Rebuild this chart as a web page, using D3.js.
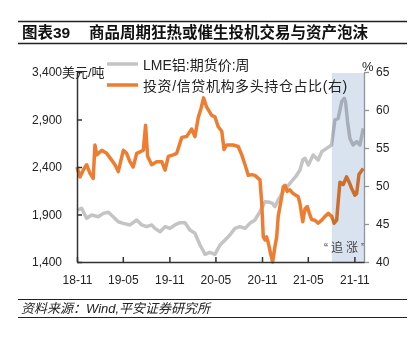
<!DOCTYPE html>
<html><head><meta charset="utf-8">
<script src="https://cdn.jsdelivr.net/npm/d3@7"></script>
<style>
html,body{margin:0;padding:0;background:#fff;}
svg{display:block;}
text{font-family:"Liberation Sans","Noto Sans CJK SC",sans-serif;}
</style></head>
<body>
<svg id="chart" width="415" height="337"></svg>
<script>
const alDates = ["2018-11-02","2018-11-19","2018-12-09","2018-12-29","2019-01-24","2019-02-13","2019-03-05","2019-03-24","2019-04-13","2019-05-03","2019-05-29","2019-06-25","2019-07-15","2019-08-03","2019-08-23","2019-09-05","2019-09-25","2019-10-15","2019-11-03","2019-11-23","2019-12-13","2020-01-02","2020-01-21","2020-02-10","2020-03-01","2020-03-21","2020-04-09","2020-04-29","2020-05-19","2020-06-08","2020-06-27","2020-07-17","2020-08-06","2020-08-26","2020-09-14","2020-10-04","2020-10-24","2020-11-13","2020-12-02","2020-12-12","2020-12-22","2021-01-04","2021-01-24","2021-02-19","2021-03-14","2021-03-31","2021-04-11","2021-04-20","2021-05-03","2021-05-22","2021-06-11","2021-06-25","2021-07-14","2021-08-03","2021-08-16","2021-08-29","2021-09-12","2021-09-22","2021-09-27","2021-10-05","2021-10-14","2021-10-27","2021-11-10","2021-11-23","2021-12-06"];
const alPrices = [1947,1965,1860,1895,1877,1912,1923,1877,1824,1807,1790,1842,1790,1772,1790,1754,1719,1772,1754,1790,1814,1814,1737,1702,1579,1481,1502,1481,1579,1632,1684,1754,1772,1754,1807,1842,1930,2035,2028,2018,1982,2053,2140,2228,2298,2368,2474,2492,2421,2526,2474,2561,2596,2632,2895,2912,3088,3123,3088,2877,2702,2632,2667,2632,2807];

const posDates = ["2018-11-01","2018-11-13","2018-11-26","2018-12-09","2018-12-22","2019-01-04","2019-01-11","2019-01-18","2019-02-07","2019-02-26","2019-03-18","2019-03-31","2019-04-13","2019-05-03","2019-05-16","2019-05-29","2019-06-11","2019-06-25","2019-07-08","2019-07-21","2019-07-30","2019-08-07","2019-08-23","2019-09-12","2019-10-02","2019-10-15","2019-10-28","2019-11-16","2019-11-30","2019-12-20","2020-01-08","2020-01-28","2020-02-10","2020-02-23","2020-03-05","2020-03-15","2020-03-27","2020-04-16","2020-04-29","2020-05-12","2020-05-26","2020-06-04","2020-06-14","2020-07-10","2020-07-30","2020-08-13","2020-08-26","2020-09-08","2020-09-21","2020-10-04","2020-10-17","2020-10-24","2020-10-31","2020-11-06","2020-11-13","2020-11-19","2020-11-26","2020-12-05","2020-12-13","2020-12-22","2020-12-29","2021-01-04","2021-01-18","2021-01-24","2021-01-31","2021-02-09","2021-02-19","2021-03-04","2021-03-24","2021-03-31","2021-04-11","2021-04-20","2021-04-29","2021-05-07","2021-05-16","2021-05-29","2021-06-11","2021-06-25","2021-07-08","2021-07-21","2021-08-03","2021-08-13","2021-08-23","2021-08-29","2021-09-05","2021-09-18","2021-10-01","2021-10-10","2021-10-21","2021-11-03","2021-11-10","2021-11-19","2021-12-06"];
const posShares = [52.5,51.2,52.1,52.8,51.7,51.0,55.4,54.1,54.7,54.3,53.4,52.8,51.9,54.7,54.3,53.2,52.5,54.3,54.5,54.7,58.0,53.9,52.8,53.2,53.2,52.1,53.9,54.1,54.3,56.4,56.5,57.5,56.5,59.0,60.2,61.6,60.4,59.3,59.1,57.8,57.2,54.8,55.4,55.4,55.2,54.1,52.8,51.4,51.5,51.4,51.0,50.8,47.7,43.3,42.9,43.3,42.5,41.1,40.0,42.0,43.3,46.0,48.6,49.9,50.1,49.3,49.5,49.0,48.6,47.7,45.3,47.0,47.3,46.4,45.6,45.5,45.1,45.5,46.0,46.4,46.0,45.1,45.5,47.9,50.5,50.2,51.2,50.6,49.7,48.8,49.0,51.5,52.3];

const xTickDates = ["2018-11-01","2019-05-01","2019-11-01","2020-05-01","2020-11-01","2021-05-01","2021-11-01"];
const xTickLabels = ["18-11","19-05","19-11","20-05","20-11","21-05","21-11"];
const leftTicks = [1400,1900,2400,2900,3400];
const rightTicks = [40,45,50,55,60,65];
const xDomain = ["2018-11-01","2021-12-09"];
const shadeRange = ["2021-08-04","2021-12-09"];
const seriesNames = ["LME铝:期货价:周","投资/信贷机构多头持仓占比(右)"];
const titleText = ["图表39","商品周期狂热或催生投机交易与资产泡沫"];
const sourceText = "资料来源：Wind,平安证券研究所";

const parse = d3.timeParse("%Y-%m-%d");
const svg = d3.select("#chart");
const L = 77, R = 364, T = 72, B = 262;

const x = d3.scaleTime().domain(xDomain.map(parse)).range([L, R]);
const yL = d3.scaleLinear().domain([1400, 3400]).range([B, T]);
const yR = d3.scaleLinear().domain([40, 65]).range([B, T]);

// title & footer rules
svg.append("line").attr("x1",18).attr("x2",407).attr("y1",21.5).attr("y2",21.5).attr("stroke","#222").attr("stroke-width",1.3);
svg.append("line").attr("x1",18).attr("x2",407).attr("y1",43.5).attr("y2",43.5).attr("stroke","#222").attr("stroke-width",1.3);
svg.append("text").attr("x",22).attr("y",38).attr("font-size",15.5).attr("font-weight","bold").attr("fill","#111").text(titleText[0]);
svg.append("text").attr("x",89).attr("y",38).attr("font-size",15.5).attr("font-weight","bold").attr("fill","#111").text(titleText[1]);
svg.append("line").attr("x1",18).attr("x2",407).attr("y1",299.5).attr("y2",299.5).attr("stroke","#222").attr("stroke-width",1.2);
svg.append("line").attr("x1",18).attr("x2",407).attr("y1",317.5).attr("y2",317.5).attr("stroke","#222").attr("stroke-width",1.2);
svg.append("text").attr("x",21).attr("y",313).attr("font-size",13).attr("font-style","italic").attr("fill","#222").text(sourceText);

// lines
const alData = alDates.map((d,i)=>({d:parse(d), v:alPrices[i]}));
const posData = posDates.map((d,i)=>({d:parse(d), v:posShares[i]}));

svg.append("path").datum(alData)
  .attr("d", d3.line().x(d=>x(d.d)).y(d=>yL(d.v)))
  .attr("fill","none").attr("stroke","#c4c4c4").attr("stroke-width",3.5).attr("stroke-linejoin","round");
svg.append("path").datum(posData)
  .attr("d", d3.line().x(d=>x(d.d)).y(d=>yR(d.v)))
  .attr("fill","none").attr("stroke","#ee7d31").attr("stroke-width",3.5).attr("stroke-linejoin","round");

// shaded region
const s0 = x(parse(shadeRange[0])), s1 = x(parse(shadeRange[1]));
svg.append("rect").attr("x",s0).attr("y",T+1).attr("width",s1-s0).attr("height",B-T-1)
  .attr("fill","#d9e3f0").style("mix-blend-mode","multiply");
svg.append("text").attr("x",324).attr("y",252).attr("font-size",12).attr("letter-spacing",3)
  .attr("font-family","'Noto Sans CJK SC',sans-serif").attr("fill","#444").text("“追涨”");

// axes
const gL = svg.append("g").attr("transform",`translate(${L},0)`)
  .call(d3.axisLeft(yL).tickValues(leftTicks).tickFormat(d3.format(",")).tickSizeInner(-5).tickSizeOuter(0).tickPadding(15));
gL.selectAll("path,line").attr("stroke","#333").attr("stroke-width",1.5);
gL.selectAll("text").attr("font-size",12).attr("fill","#222").attr("font-family","'Liberation Sans',sans-serif");

const gR = svg.append("g").attr("transform",`translate(${R},0)`)
  .call(d3.axisRight(yR).tickValues(rightTicks).tickSizeInner(5).tickSizeOuter(0).tickPadding(7));
gR.selectAll("path,line").attr("stroke","#8f959c").attr("stroke-width",1.3);
gR.selectAll("text").attr("font-size",12).attr("fill","#222").attr("font-family","'Liberation Sans',sans-serif");

const gB = svg.append("g").attr("transform",`translate(0,${B})`)
  .call(d3.axisBottom(x).tickValues(xTickDates.map(parse)).tickFormat((d,i)=>xTickLabels[i]).tickSizeInner(-5).tickSizeOuter(0).tickPadding(13));
gB.selectAll("path,line").attr("stroke","#333").attr("stroke-width",1.5);
gB.selectAll("text").attr("font-size",12).attr("fill","#222").attr("font-family","'Liberation Sans',sans-serif");

// unit labels
svg.append("text").attr("x",62).attr("y",76.5).attr("font-size",13).attr("fill","#222").text("美元/吨");
svg.append("text").attr("x",362).attr("y",71).attr("font-size",13).attr("fill","#222").text("%");

// legend
svg.append("line").attr("x1",107).attr("x2",138).attr("y1",64).attr("y2",64).attr("stroke","#c4c4c4").attr("stroke-width",3.5);
svg.append("text").attr("x",143).attr("y",69.5).attr("font-size",14).attr("fill","#222").text(seriesNames[0]);
svg.append("line").attr("x1",107).attr("x2",138).attr("y1",85).attr("y2",85).attr("stroke","#ee7d31").attr("stroke-width",3.5);
svg.append("text").attr("x",143).attr("y",90.5).attr("font-size",14).attr("letter-spacing",0.6).attr("fill","#222").text(seriesNames[1]);
</script>
</body></html>
